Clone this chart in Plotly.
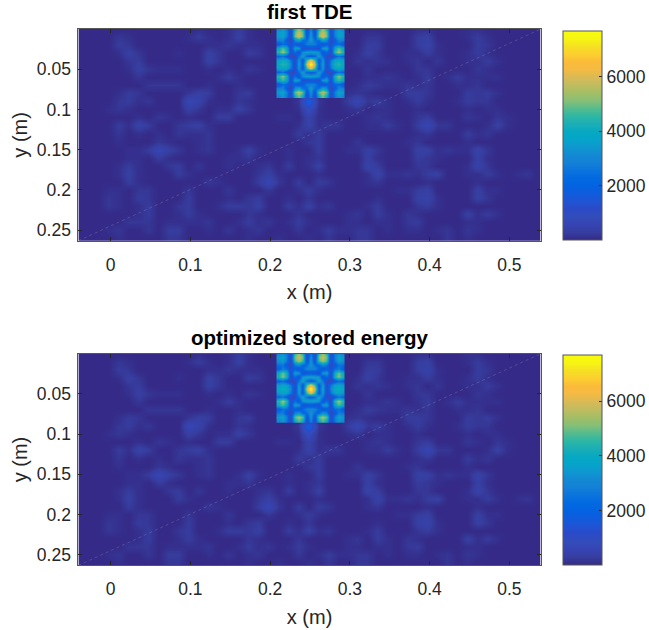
import numpy as np
import plotly.graph_objects as go

W, H = 649, 630
TITLES = ["first TDE", "optimized stored energy"]
X_TICKS = [0, 0.1, 0.2, 0.3, 0.4, 0.5]
X_LABELS = ["0", "0.1", "0.2", "0.3", "0.4", "0.5"]
Y_TICKS = [0.05, 0.1, 0.15, 0.2, 0.25]
Y_LABELS = ["0.05", "0.1", "0.15", "0.2", "0.25"]
CB_TICKS = [2000, 4000, 6000]
CB_LABELS = ["2000", "4000", "6000"]
X_RANGE = [-0.0405, 0.5395]
Y_RANGE = [0.2633, 0.0]
Z_MAX = 7700

BG_UNIT = 90
BG_FLOOR = 2
background = [
    [0,0,0,1,2,1,1,1,1,1, 1,2,3,2,1,3,5,3,1,1, 1,1,1,1,1,1,1,1,1,2, 2,1,1,1,3,3,1,1,1,3, 3,1,1,0,0,0,0],
    [0,1,1,2,4,3,1,1,1,1, 1,3,5,3,1,3,6,3,1,1, 1,1,1,1,1,1,1,1,2,4, 4,1,1,2,5,6,2,1,1,3, 5,3,1,0,0,0,0],
    [0,2,2,2,5,4,2,1,1,1, 2,1,1,3,3,4,3,3,3,2, 1,1,1,1,1,1,1,1,2,5, 5,2,1,2,5,7,3,1,1,2, 5,4,1,0,0,0,0],
    [0,0,1,1,3,6,4,1,1,2, 3,2,2,6,4,2,2,5,4,1, 1,1,1,1,1,1,1,1,3,6, 4,1,2,3,3,5,3,1,2,3, 5,3,1,0,0,0,0],
    [0,0,0,1,2,4,5,2,1,1, 2,1,2,6,4,2,2,2,2,1, 1,1,1,1,1,1,1,2,4,3, 4,3,2,3,4,2,4,2,1,3, 3,5,3,0,0,0,0],
    [0,0,0,1,1,3,6,4,3,3, 3,1,2,3,2,3,2,4,3,1, 1,1,1,1,1,1,1,1,2,4, 2,1,1,2,4,4,2,1,1,2, 4,3,1,0,0,0,0],
    [0,0,0,1,1,2,4,2,2,2, 2,1,1,2,3,5,3,2,1,1, 1,1,1,1,1,1,1,1,2,3, 3,4,3,2,3,5,2,3,5,3, 3,3,3,0,0,0,0],
    [0,0,0,1,1,2,2,4,4,4, 4,2,2,3,1,2,3,2,1,1, 1,1,1,1,1,1,1,1,3,5, 4,3,3,4,3,4,2,2,3,3, 4,2,1,0,0,0,0],
    [0,0,0,1,3,5,4,2,1,1, 1,4,6,5,2,1,4,5,2,1, 1,1,1,1,1,1,1,3,4,3, 2,1,2,5,5,4,2,1,2,5, 4,5,3,2,2,2,2],
    [0,0,0,2,4,5,3,4,2,1, 2,9,7,3,1,2,4,3,1,1, 1,1,4,24,4,1,1,5,9,4, 5,3,2,3,5,3,1,2,3,5, 4,4,2,1,1,1,0],
    [0,0,0,3,4,3,2,1,2,1, 1,6,4,2,3,3,6,4,2,1, 2,2,3,12,3,1,1,3,4,2, 3,3,1,2,3,2,1,1,2,3, 2,3,3,1,0,0,0],
    [0,0,0,1,2,2,3,2,4,3, 2,3,2,2,5,5,2,2,2,1, 3,3,2,7,3,1,1,1,1,3, 4,3,1,2,4,5,2,1,2,4, 3,1,4,3,1,2,2],
    [0,0,0,2,5,3,7,5,2,1, 4,5,6,3,2,2,1,1,2,1, 1,1,3,7,3,4,4,1,1,3, 3,5,3,2,5,9,4,4,2,1, 2,3,6,3,1,1,1],
    [0,0,0,2,4,2,3,2,3,2, 4,3,3,4,2,1,1,1,1,1, 1,2,5,3,5,2,1,1,2,1, 1,2,1,2,3,4,2,1,2,5, 3,4,2,1,0,0,0],
    [0,0,0,1,3,1,2,2,4,3, 1,1,3,4,2,1,1,2,1,1, 1,1,2,4,5,2,1,2,4,2, 1,1,1,3,4,2,1,1,2,3, 2,2,1,0,0,0,0],
    [0,0,0,1,1,3,3,5,9,6, 4,1,3,4,2,1,3,6,3,1, 1,3,1,2,5,1,1,3,3,6, 4,1,1,2,6,6,3,4,3,3, 7,4,1,0,0,0,0],
    [0,0,0,1,2,3,3,2,5,3, 2,1,1,1,1,3,3,4,2,1, 1,3,1,3,4,1,1,1,1,6, 3,1,1,2,5,4,3,2,1,2, 6,3,1,0,0,0,0],
    [0,0,0,1,3,5,3,1,1,4, 5,2,4,2,2,3,2,1,3,4, 2,5,2,3,6,2,1,1,2,7, 5,1,1,2,4,4,2,1,1,3, 7,4,1,0,0,0,0],
    [0,2,2,1,3,6,3,1,1,2, 5,3,1,2,1,1,1,2,4,6, 3,1,2,1,3,2,1,1,1,3, 7,3,3,4,3,5,6,2,1,3, 3,5,3,2,3,4,2],
    [0,0,0,1,2,5,3,1,1,1, 2,1,2,4,3,1,1,2,5,9, 4,2,5,2,5,4,1,1,1,3, 4,1,1,2,2,3,2,1,1,1, 3,2,1,1,1,0,0],
    [0,0,0,3,3,1,4,4,1,1, 2,4,2,1,2,4,2,1,2,4, 1,1,3,5,3,1,1,1,1,1, 2,1,3,3,5,6,2,1,1,1, 6,3,3,1,0,0,0],
    [0,0,0,4,3,2,5,4,1,1, 2,5,2,1,1,3,1,4,5,2, 1,3,1,4,2,2,1,1,1,2, 3,1,1,2,6,7,3,1,1,1, 6,4,1,0,0,0,0],
    [0,0,0,4,3,2,3,5,2,1, 4,5,2,2,3,5,5,4,6,2, 2,5,3,6,3,4,2,1,1,3, 5,2,1,2,4,5,3,1,1,2, 2,2,1,0,0,0,0],
    [0,0,0,2,2,2,3,5,2,1, 3,5,3,2,2,2,2,4,3,2, 1,1,4,2,1,2,1,3,4,2, 5,3,1,4,3,2,1,1,2,6, 3,5,3,1,0,0,0],
    [0,0,0,2,2,4,4,4,1,3, 3,3,3,4,2,2,3,5,3,4, 1,3,5,3,1,2,1,3,3,2, 3,3,2,4,5,2,1,1,1,3, 3,2,1,0,0,0,0],
    [0,0,0,3,4,2,2,4,2,5, 5,2,1,3,2,4,2,3,4,2, 2,1,4,2,3,5,3,3,4,4, 2,3,2,3,3,2,3,4,2,4, 3,2,1,0,0,0,0],
    [0,0,0,2,3,1,1,2,1,4, 4,1,1,2,1,2,1,3,2,1, 3,1,1,3,2,4,2,1,4,4, 2,1,1,1,1,1,2,4,2,3, 2,1,1,0,0,0,0],
]
bg_x = [-0.04 + 0.0125 * i for i in range(47)]
bg_y = [0.01 * i for i in range(27)]

INSET_UNIT = 100
inset_first = [
    [28,32,26,8,40,50,40,9,28,9,40,50,40,8,26,32,28],
    [34,38,30,9,48,58,48,11,34,11,48,58,48,9,30,38,34],
    [34,38,28,9,50,60,50,14,36,14,50,60,50,9,28,38,34],
    [28,30,18,8,30,38,24,24,36,24,24,38,30,8,18,30,28],
    [16,24,22,12,20,14,20,28,28,28,20,14,20,12,22,24,16],
    [38,48,38,12,36,34,12,14,16,14,12,34,36,12,38,48,38],
    [44,54,44,10,24,14,32,36,36,36,32,14,24,10,44,54,44],
    [22,26,18,8,10,24,36,22,18,22,36,24,10,8,18,26,22],
    [36,40,38,26,10,34,16,46,62,46,16,34,10,26,38,40,36],
    [40,44,42,30,10,36,18,58,77,58,18,36,10,30,42,44,40],
    [36,40,38,26,10,34,16,46,62,46,16,34,10,26,38,40,36],
    [22,26,18,8,10,24,36,22,18,22,36,24,10,8,18,26,22],
    [44,52,42,10,24,14,32,36,36,36,32,14,24,10,42,52,44],
    [38,46,38,12,36,34,12,14,16,14,12,34,36,12,38,46,38],
    [16,24,22,12,20,14,20,28,28,28,20,14,20,12,22,24,16],
    [28,30,18,8,30,38,24,24,36,24,24,38,30,8,18,30,28],
    [34,38,28,9,48,56,48,14,34,14,48,56,48,9,28,38,34],
    [30,34,26,8,40,50,40,10,30,10,40,50,40,8,26,34,30],
]
inset_second = [
    [28,32,26,8,42,52,42,9,26,9,42,52,42,8,26,32,28],
    [34,38,28,9,50,58,50,11,32,11,50,58,50,9,28,38,34],
    [32,36,26,9,46,54,46,14,34,14,46,54,46,9,26,36,32],
    [24,26,16,8,26,32,22,24,34,24,22,32,26,8,16,26,24],
    [18,28,24,12,20,14,22,30,30,30,22,14,20,12,24,28,18],
    [40,50,40,12,36,34,12,14,16,14,12,34,36,12,40,50,40],
    [42,52,42,10,24,14,34,38,38,38,34,14,24,10,42,52,42],
    [20,24,16,8,10,26,38,24,18,24,38,26,10,8,16,24,20],
    [34,38,36,26,10,36,16,46,62,46,16,36,10,26,36,38,34],
    [38,42,40,30,10,38,18,58,77,58,18,38,10,30,40,42,38],
    [34,38,36,26,10,36,16,46,62,46,16,36,10,26,36,38,34],
    [22,26,18,8,10,26,38,24,18,24,38,26,10,8,18,26,22],
    [44,54,44,10,24,14,34,38,38,38,34,14,24,10,44,54,44],
    [40,48,38,12,36,34,12,14,16,14,12,34,36,12,38,48,40],
    [18,26,24,12,20,14,22,30,30,30,22,14,20,12,24,26,18],
    [26,28,16,8,28,34,22,24,34,24,22,34,28,8,16,28,26],
    [34,38,28,9,48,54,48,14,34,14,48,54,48,9,28,38,34],
    [30,34,26,8,40,48,40,10,30,10,40,48,40,8,26,34,30],
]
inset_x = [0.2105 + 0.005 * i for i in range(17)]
inset_y = [-0.0016 + 0.005 * i for i in range(18)]

PARULA = [
    "#352a87", "#363e9f", "#3644b3", "#324dba", "#2b4ac7", "#2054d4", "#0f5cdd",
    "#0363e1", "#026ae1", "#0c74dd", "#1481d6", "#1389d3", "#0e98cf", "#06a4ca", "#06a9c1",
    "#1caeb5", "#2eb7a4", "#58bb8c", "#87bf77", "#a4be64", "#c0bc60", "#d9ba56", "#f4ba43",
    "#fbbb39", "#fccf30", "#f5e023", "#f6f513", "#f9fb0e",
]
scale = [[i / (len(PARULA) - 1), c] for i, c in enumerate(PARULA)]

INK = "#262626"
FONT = "Liberation Sans, Arial, sans-serif"
TOPS = [29.0, 353.7]
BOTTOMS = [240.7, 565.4]
TITLE_GAPS = [17.5, 16]
LEFT, RIGHT = 79.0, 545.0
CB_TOPS = [30.7, 355.0]
CB_BOTTOMS = [240.0, 564.5]
CB_LEFT, CB_WIDTH = 567.0, 38.7

fig = go.Figure()
panels = [inset_first, inset_second]
for n, inset in enumerate(panels):
    suffix = "" if n == 0 else "2"
    xa, ya = "x" + suffix, "y" + suffix
    fig.add_trace(go.Heatmap(
        x=bg_x, y=bg_y, z=np.clip(np.array(background) - BG_FLOOR, 0, None) * BG_UNIT, xaxis=xa, yaxis=ya,
        zsmooth="best", zmin=0, zmax=Z_MAX, colorscale=scale, showscale=True,
        colorbar=dict(
            x=CB_LEFT / W, xanchor="left", xpad=0, ypad=0,
            y=1 - CB_TOPS[n] / H, yanchor="top",
            len=(CB_BOTTOMS[n] - CB_TOPS[n]) / H, lenmode="fraction",
            thickness=CB_WIDTH, thicknessmode="pixels",
            outlinecolor="#555555", outlinewidth=1,
            tickvals=CB_TICKS, ticktext=CB_LABELS,
            ticks="inside", ticklen=3, tickcolor=INK,
            tickfont=dict(family=FONT, size=17.5, color=INK),
        ),
    ))
    fig.add_trace(go.Heatmap(
        x=inset_x, y=inset_y, z=np.array(inset) * INSET_UNIT, xaxis=xa, yaxis=ya,
        zsmooth="best", zmin=0, zmax=Z_MAX, colorscale=scale, showscale=False,
    ))
    fig.add_trace(go.Scatter(
        x=X_RANGE, y=Y_RANGE, mode="lines", xaxis=xa, yaxis=ya, showlegend=False,
        line=dict(color="rgba(255,255,255,0.22)", width=0.7, dash="dot"), hoverinfo="skip",
    ))
    axis = dict(
        domain=[LEFT / W, RIGHT / W], range=X_RANGE, tickvals=X_TICKS, ticktext=X_LABELS,
        ticks="inside", ticklen=4, tickcolor=INK, tickfont=dict(family=FONT, size=17.5, color=INK),
        ticklabelstandoff=8,
        showgrid=False, zeroline=False, showline=True, linecolor="#555555", linewidth=1, mirror="ticks",
        title=dict(text="x (m)", font=dict(family=FONT, size=20, color=INK), standoff=11),
        anchor=ya,
    )
    yaxis = dict(
        domain=[1 - BOTTOMS[n] / H, 1 - TOPS[n] / H], range=Y_RANGE, tickvals=Y_TICKS, ticktext=Y_LABELS,
        ticks="inside", ticklen=4, tickcolor=INK, tickfont=dict(family=FONT, size=17.5, color=INK),
        ticklabelstandoff=3,
        showgrid=False, zeroline=False, showline=True, linecolor="#555555", linewidth=1, mirror="ticks",
        title=dict(text="y (m)", font=dict(family=FONT, size=20, color=INK), standoff=3),
        anchor=xa,
    )
    fig.update_layout({"xaxis" + suffix: axis, "yaxis" + suffix: yaxis})
    fig.add_annotation(
        x=(LEFT + RIGHT) / 2 / W, y=1 - (TOPS[n] - TITLE_GAPS[n]) / H, xref="paper", yref="paper",
        xanchor="center", yanchor="middle", showarrow=False, text="<b>" + TITLES[n] + "</b>",
        font=dict(family=FONT, size=20.5, color="#000000"),
    )
    fig.add_shape(
        type="line", xref="paper", yref="paper", layer="above",
        x0=(CB_LEFT + 1) / W, x1=(CB_LEFT + CB_WIDTH - 1) / W,
        y0=1 - CB_BOTTOMS[n] / H, y1=1 - CB_TOPS[n] / H,
        line=dict(color="rgba(255,255,255,0.4)", width=0.8),
    )

fig.update_layout(
    width=W, height=H, margin=dict(l=0, r=0, t=0, b=0),
    paper_bgcolor="white", plot_bgcolor="white", showlegend=False,
)
fig.write_html("out.html", post_script="document.body.style.margin='0';", config={"displayModeBar": False})
